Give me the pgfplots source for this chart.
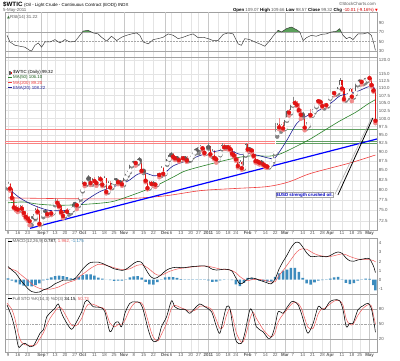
\documentclass[border=0pt]{standalone}
\usepackage{pgfplots}
\pgfplotsset{compat=1.18}
\usepackage{pgfplotstable}
\usepackage{fontspec}
\setmainfont{Liberation Sans}
\newfontfamily\symfont{DejaVu Sans}
\newcommand\tf{\fontsize{4.4}{5}\selectfont}
\definecolor{gridc}{RGB}{228,228,228}
\definecolor{monthc}{RGB}{200,200,200}
\definecolor{framec}{RGB}{160,160,160}
\definecolor{lblc}{RGB}{90,90,90}
\definecolor{ma50}{RGB}{40,130,40}
\definecolor{ma200}{RGB}{240,60,60}
\definecolor{ema20}{RGB}{30,30,150}
\definecolor{hlred}{RGB}{250,130,130}
\definecolor{hlgreen}{RGB}{100,160,100}
\definecolor{candleg}{RGB}{95,95,95}
\definecolor{wickg}{RGB}{135,135,135}
\definecolor{candler}{RGB}{225,20,20}
\definecolor{wickr}{RGB}{240,140,140}
\definecolor{histc}{RGB}{60,140,190}
\definecolor{sigred}{RGB}{240,90,90}
\definecolor{rsifill}{RGB}{90,160,90}

\pgfplotstableread{
d o h l c r
0 80.9 81.9 80.3 81.5 0
1 81.4 81.6 79.8 80.3 1
2 80.2 80.4 77.8 78.0 1
3 77.9 78.3 75.5 75.7 1
4 75.8 76.3 75.0 75.4 1
5 75.4 76.0 74.6 75.2 1
6 75.2 76.3 74.9 75.8 0
7 75.9 76.2 74.8 75.4 1
8 75.3 75.7 73.9 74.4 1
9 74.4 74.8 73.1 73.5 1
10 73.5 74.3 72.6 73.1 1
11 73.0 73.6 71.6 72.5 1
12 72.5 73.6 71.6 73.1 0
13 73.2 74.1 72.9 73.4 0
14 73.4 75.6 73.0 75.2 0
15 75.3 76.1 74.4 74.7 1
16 74.6 74.9 71.6 71.9 1
17 72.0 74.4 71.8 73.9 0
18 73.9 75.0 73.4 74.6 0
19 74.7 75.4 74.1 74.6 0
20 74.5 75.1 73.7 74.1 1
21 74.2 75.0 73.9 74.7 0
22 74.7 75.1 73.9 74.3 1
23 74.4 76.8 74.3 76.5 0
24 76.6 77.9 76.2 77.2 0
25 77.1 77.6 76.4 76.8 1
26 76.8 77.2 75.7 76.0 1
27 76.0 76.3 74.3 74.6 1
28 74.6 74.9 73.2 73.7 1
29 73.8 75.2 73.5 74.9 0
30 74.9 75.6 74.4 74.7 1
31 74.6 75.4 74.0 74.7 0
32 74.7 75.8 74.3 75.2 0
33 75.2 76.8 75.0 76.5 0
34 76.5 77.0 75.9 76.5 0
35 76.4 76.8 75.3 76.2 1
36 76.3 78.2 76.0 77.9 0
37 78.0 80.2 77.6 79.9 0
38 79.9 82.1 79.6 81.6 0
39 81.5 82.0 80.9 81.5 1
40 81.6 83.1 81.2 82.8 0
41 82.9 83.9 82.6 83.2 0
42 83.1 83.3 81.2 81.7 1
43 81.8 83.0 81.3 82.7 0
44 82.6 83.2 81.8 82.2 1
45 82.2 82.5 81.0 81.7 1
46 81.8 83.6 81.6 83.0 0
47 83.0 83.6 82.3 82.7 1
48 82.6 82.9 80.9 81.3 1
49 81.4 83.4 81.1 83.1 0
50 83.0 83.1 79.1 79.5 1
51 79.6 82.1 79.3 81.8 0
52 81.7 82.2 80.3 80.6 1
53 80.7 82.0 80.4 81.7 0
54 81.8 82.9 81.5 82.5 0
55 82.4 82.9 81.8 82.6 0
56 82.5 82.8 81.4 81.9 1
57 81.9 82.6 81.5 82.2 0
58 82.2 82.4 81.0 81.4 1
59 81.5 83.3 81.2 83.0 0
60 83.0 84.3 82.7 84.0 0
61 84.0 85.0 83.6 84.7 0
62 84.8 86.8 84.5 86.5 0
63 86.5 87.4 86.1 87.0 0
64 87.0 87.6 86.5 87.1 0
65 87.1 87.5 86.3 87.0 1
66 87.1 88.2 86.7 87.8 0
67 87.8 88.6 87.2 87.8 0
68 87.6 87.8 84.6 84.9 1
69 84.9 85.4 84.3 84.9 0
70 84.8 85.1 81.9 82.3 1
71 82.3 82.6 80.1 80.4 1
72 80.5 82.3 80.3 81.9 0
73 81.8 82.1 80.9 81.5 1
74 81.5 82.2 81.1 81.7 0
75 81.6 82.0 80.7 81.3 1
76 81.4 84.2 81.2 83.9 0
77 83.8 84.4 83.2 83.8 1
78 83.9 86.1 83.5 85.7 0
79 85.6 85.9 83.8 84.1 1
80 84.2 87.1 84.0 86.8 0
81 86.8 88.3 86.5 88.0 0
82 88.0 89.6 87.8 89.2 0
83 89.2 90.0 88.8 89.4 0
84 89.4 89.7 88.3 88.7 1
85 88.7 89.0 87.8 88.3 1
86 88.3 88.9 87.9 88.4 0
87 88.4 88.7 87.4 87.8 1
88 87.9 89.0 87.6 88.6 0
89 88.6 88.9 87.8 88.3 1
90 88.3 88.9 87.9 88.6 0
91 88.6 88.8 87.3 87.7 1
92 87.8 88.4 87.5 88.0 0
93 88.0 89.1 87.7 88.8 0
94 88.8 90.1 88.5 89.8 0
95 89.8 90.8 89.5 90.5 0
96 90.5 91.3 90.2 90.8 0
97 90.8 91.4 89.7 91.0 0
98 91.0 92.0 90.7 91.5 0
99 91.5 91.9 90.5 91.1 1
100 91.1 91.3 89.4 89.8 1
101 89.8 91.8 89.6 91.4 0
102 91.4 92.6 91.0 91.6 0
103 91.6 91.9 89.0 89.4 1
104 89.4 90.8 88.7 90.3 0
105 90.3 90.6 88.0 88.4 1
106 88.4 89.0 87.1 88.0 1
107 88.0 89.6 87.6 89.3 0
108 89.3 91.5 89.1 91.1 0
109 91.1 92.6 90.8 91.9 0
110 91.9 92.3 90.9 91.4 1
111 91.4 91.9 90.9 91.5 0
112 91.5 92.0 90.8 91.4 1
113 91.4 92.0 90.5 90.9 1
114 90.9 91.2 89.2 89.6 1
115 89.6 90.3 88.7 89.1 1
116 89.1 89.4 87.6 88.0 1
117 88.0 88.3 85.8 86.2 1
118 86.2 87.8 85.9 87.3 0
119 87.3 87.6 85.2 85.6 1
120 85.6 89.7 85.4 89.3 0
121 89.3 92.6 89.0 92.2 0
122 92.2 92.6 90.2 90.8 1
123 90.8 91.5 90.3 90.9 0
124 90.9 91.2 89.8 90.5 1
125 90.5 90.8 88.7 89.0 1
126 89.0 89.4 87.1 87.5 1
127 87.5 88.2 86.9 87.4 1
128 87.4 87.9 86.6 87.1 1
129 87.1 87.9 86.7 87.3 0
130 87.3 87.5 86.3 86.6 1
131 86.6 86.9 85.8 86.2 1
132 86.2 86.6 85.7 86.0 1
133 86.0 87.0 85.8 86.7 0
134 86.7 88.0 86.5 87.7 0
135 87.7 89.0 87.3 88.4 0
136 89.8 98.5 89.5 95.4 0
137 95.4 98.5 94.5 98.1 0
138 98.1 100.2 96.7 97.3 1
139 97.3 98.3 96.0 97.9 0
140 97.9 99.0 96.5 97.0 1
141 97.0 100.1 96.8 99.6 0
142 99.6 102.6 99.3 102.2 0
143 102.2 102.9 100.9 101.9 1
144 101.9 104.8 101.6 104.4 0
145 104.4 106.9 104.1 105.4 0
146 105.4 106.0 104.4 105.0 1
147 105.0 105.8 104.0 104.4 1
148 104.4 104.9 102.3 102.7 1
149 102.7 103.1 99.9 101.2 1
150 101.2 102.0 100.3 101.2 0
151 101.2 101.5 96.4 97.2 1
152 97.2 98.8 96.9 98.0 0
153 98.0 101.8 97.6 101.4 0
154 101.4 103.0 100.8 101.1 1
155 101.1 103.0 100.9 102.3 0
156 102.3 104.3 101.9 104.0 0
157 104.0 106.0 103.6 105.8 0
158 105.8 106.2 104.9 105.6 1
159 105.6 106.0 104.8 105.4 1
160 105.4 105.7 103.6 104.0 1
161 104.0 105.0 103.2 104.8 0
162 104.8 105.0 103.9 104.3 1
163 104.3 107.0 103.9 106.7 0
164 106.7 108.5 106.4 107.9 0
165 107.9 108.9 107.5 108.5 0
166 108.5 109.0 107.6 108.3 1
167 108.3 109.4 107.8 108.8 0
168 108.8 110.6 108.1 110.3 0
169 110.3 113.5 110.0 112.8 0
170 112.8 113.0 109.5 109.9 1
171 109.9 110.2 105.9 106.3 1
172 106.3 107.5 105.8 107.1 0
173 107.1 108.5 106.5 108.1 0
174 108.1 110.0 107.8 109.7 0
175 109.7 109.9 105.6 107.1 1
176 107.1 108.6 106.8 108.2 0
177 108.2 111.8 108.0 111.5 0
178 111.5 112.5 111.0 112.3 0
179 112.3 112.6 111.3 112.3 0
180 112.3 112.8 111.3 112.2 1
181 112.2 113.2 111.4 112.8 0
182 112.8 113.5 111.9 112.9 0
183 112.9 114.0 112.5 113.9 0
184 113.9 114.8 112.8 113.5 1
185 113.5 113.7 110.6 111.1 1
186 111.1 111.6 108.8 109.2 1
187 109.07 109.66 98.57 99.32 1
}\candles

\pgfplotstableread{
d p
0 80.4
6 78.0
13 76.2
21 75.0
30 75.0
35 75.6
40 77.5
47 79.6
54 80.8
61 82.2
66 84.0
70 84.3
74 83.6
79 84.0
84 86.2
91 87.6
99 89.3
108 90.5
113 90.5
118 89.4
123 89.6
128 89.0
135 88.2
138 90.0
142 93.5
147 98.5
152 100.8
156 101.8
160 103.3
165 105.3
169 107.4
174 108.2
179 109.2
183 110.4
186 110.5
187 108.6
}\emaA

\pgfplotstableread{
d p
0 76.8
8 77.0
15 76.5
25 76.2
38 76.4
52 77.0
61 78.3
74 80.7
85 83.5
91 85.0
108 87.4
118 88.6
125 89.0
133 88.9
139 89.6
152 93.2
160 96.0
169 99.3
177 102.0
183 104.6
187 106.1
}\maB

\pgfplotstableread{
d p
0 78.0
30 77.8
60 77.8
80 78.5
98 79.8
115 80.3
132 80.8
143 82.0
154 84.2
174 87.0
187 89.2
}\maC

\pgfplotstableread{
d p
-1.53 96.8
136 96.8
}\hlA
\pgfplotstableread{
d p
-1.53 93.1
136 93.1
}\hlB
\pgfplotstableread{
d p
-1.53 92.5
136 92.5
}\hlC
\pgfplotstableread{
d p
136 96.8
187.8 96.8
}\hgA
\pgfplotstableread{
d p
136 93.1
187.8 93.1
}\hgB
\pgfplotstableread{
d p
136 92.5
187.8 92.5
}\hgC
\pgfplotstableread{
d p
11.2 70.9
187.8 93.8
}\trendblue
\pgfplotstableread{
d p
167.9 78.7
185.7 100.2
}\trendblack
\pgfplotstableread{
d p
166.4 78.9
185.0 100.2
}\trendgray

\pgfplotstableread{
d v
-0.5 63
1.0 49
3.6 42
6.1 40
8.6 38
11.2 31
12.0 30
13.7 42
15.4 47
17.1 38
18.8 49
21.4 49
23.9 54
26.4 47
29.0 54
31.5 49
34.1 50
36.6 63
38.3 72
40.8 73.5
43.4 68
45.9 66
47.6 59
50.2 51
52.7 61
55.3 52
57.8 59
60.3 63
62.9 66
65.4 68
67.1 63
68.8 49
71.4 45
73.9 54
76.4 56
79.0 59
81.5 66
84.1 63
86.6 56
89.2 59
91.7 63
94.2 66
96.8 58
99.3 59
101.9 56
104.4 52
106.9 52
109.5 65
112.0 68
114.6 66
117.1 45
118.8 42
120.5 56
123.1 54
125.6 49
128.1 45
130.7 40
133.2 52
135.8 66
137.5 73.5
139.2 70
141.7 77
144.2 80.5
146.8 75
148.5 70
150.2 52
151.9 58
154.4 63
156.9 61
159.5 65
162.0 66
164.6 70
167.1 71.5
168.8 77
170.5 63
172.2 56
173.9 59
175.6 54
178.1 66
180.7 66
183.2 68.6
184.9 63
186.0 49
187.0 31.22
}\rsi

\pgfplotstableread{
d m s h
0 1.45 1.30 0.15
2 1.05 1.15 -0.10
4 0.70 1.00 -0.30
6 0.08 0.65 -0.50
8 -0.45 0.30 -0.65
10 -0.95 -0.05 -0.70
12 -1.30 -0.45 -0.72
14 -1.40 -0.75 -0.60
16 -1.35 -0.95 -0.40
18 -1.12 -1.05 -0.07
20 -0.97 -1.05 0.08
22 -0.75 -1.02 0.25
24 -0.43 -0.92 0.40
26 -0.25 -0.78 0.45
28 -0.05 -0.55 0.40
30 -0.04 -0.35 0.28
32 -0.04 -0.20 0.14
34 0.11 -0.08 0.17
36 0.60 0.30 0.30
38 1.15 0.60 0.50
40 1.60 0.92 0.60
42 1.90 1.25 0.60
44 1.94 1.50 0.44
46 1.93 1.70 0.23
48 1.80 1.68 0.12
50 1.60 1.58 0.02
52 1.40 1.45 -0.05
54 1.20 1.32 -0.12
56 1.10 1.20 -0.10
58 1.02 1.12 -0.10
60 1.15 1.12 0.03
62 1.45 1.20 0.25
64 1.80 1.42 0.38
66 2.00 1.60 0.40
68 1.90 1.66 0.24
70 1.20 1.45 -0.25
72 0.50 1.15 -0.50
74 0.15 0.78 -0.55
76 0.25 0.52 -0.27
78 0.55 0.50 0.05
80 0.95 0.68 0.27
82 1.20 0.90 0.30
84 1.33 1.05 0.28
86 1.37 1.17 0.20
88 1.32 1.25 0.07
90 1.33 1.30 0.03
92 1.40 1.35 0.05
94 1.45 1.41 0.04
96 1.48 1.45 0.03
98 1.53 1.48 0.05
100 1.52 1.49 0.03
102 1.40 1.48 -0.08
104 1.15 1.38 -0.23
106 1.06 1.28 -0.22
108 1.10 1.17 -0.07
110 1.17 1.12 0.05
112 1.12 1.12 0.00
114 0.95 1.00 -0.05
116 0.20 0.76 -0.50
118 -0.45 0.35 -0.70
120 -0.30 0.05 -0.35
122 0.10 -0.10 0.20
124 0.20 0.00 0.20
126 0.12 0.04 0.08
128 -0.05 0.04 -0.09
130 -0.20 -0.05 -0.15
132 -0.35 -0.14 -0.21
134 -0.45 -0.25 -0.20
136 0.10 -0.20 0.30
138 1.20 0.50 0.70
140 2.00 1.00 1.00
142 2.70 1.60 1.10
144 3.50 2.20 1.30
146 4.05 2.80 1.30
148 4.10 3.25 0.85
150 3.60 3.40 0.20
152 2.95 3.35 -0.40
154 2.55 3.10 -0.55
156 2.55 2.85 -0.30
158 2.60 2.70 -0.10
160 2.55 2.60 -0.05
162 2.52 2.55 -0.03
164 2.66 2.55 0.11
166 2.90 2.64 0.26
168 3.05 2.75 0.30
170 2.90 2.85 0.05
172 2.40 2.75 -0.35
174 2.07 2.55 -0.48
176 2.03 2.40 -0.37
178 2.17 2.27 -0.10
180 2.25 2.22 0.03
182 2.33 2.20 0.13
184 2.30 2.20 0.10
186 1.50 2.10 -0.60
187 0.787 1.962 -1.175
}\macd

\pgfplotstableread{
d k dd
-0.5 88.7 92
1.9 65 80
3.6 39 60
5.3 5 30
6.9 8.6 14
8.6 12 9
11.2 5 8
12.9 6.7 7
14.6 18.7 11
16.3 32 22
18.0 39 33
19.7 65 48
21.4 73 62
23.9 82 76
25.6 90.7 84
27.3 72 82
29.8 53 65
32.4 40 48
34.9 55 48
37.5 75 62
39.2 95 80
40.8 97 90
43.4 85 90
46.8 84 84
49.3 75 80
51.9 35 52
54.4 52 45
56.1 55 50
57.8 45 50
59.5 72 58
62.0 92 80
64.6 95 93
67.1 93 94
68.8 79 88
71.4 39 55
73.1 20 32
74.7 15 20
76.4 20 17
78.1 45 30
80.7 65 52
83.2 97 82
84.9 85 88
87.5 80 84
90.0 80 80
92.5 72 76
95.1 82 78
97.6 90.7 86
100.2 85 86
103.6 75 80
106.1 45 58
107.8 32 42
109.5 59 45
111.2 85 68
112.9 82 80
114.6 42 60
116.3 15 32
118.8 12 14
120.5 32 22
123.1 79 60
124.7 72 74
126.4 45 62
129.8 35 40
132.4 22 28
134.1 25 25
135.8 45 32
137.5 75 55
140.0 72 70
141.7 82 78
144.2 95 90
145.9 95 94
147.6 89 92
149.3 72 82
151.0 49 62
152.7 32 44
155.3 52 42
157.8 85 70
159.5 82 80
161.2 80 82
163.7 95 90
166.3 99 97
168.8 97 97
170.5 79 88
172.2 45 60
173.9 52 50
175.6 52 50
178.1 79 68
180.7 87 82
183.2 92 89
184.9 82 87
186.2 55 65
187 34.15 50.73
}\sto

\pgfplotsset{
  panel/.style={
    scale only axis, width=372pt, xmin=-1.53, xmax=187.8,
    axis line style={framec, line width=0.4pt},
    major tick length=0pt, minor tick length=0pt,
    xtick={0,5,10,17,20,24,29,34,38,44,49,54,59,64,69,74,80,83,88,93,97,102,107,112,116,122,126,131,136,141,145,150,155,160,164,170,175,179,184},
    xmajorgrids, grid style={gridc, line width=0.4pt},
    extra x ticks={17,38,59,80,102,122,141,164,184},
    extra x tick labels={},
    extra x tick style={grid style={monthc, line width=0.4pt}},
    yticklabel pos=right,
    ticklabel style={font=\tf, text=lblc},
    yticklabel style={inner sep=1.8pt},
    xticklabel style={inner sep=1pt},
    /pgf/number format/assume math mode=true,
  },
  datelabels/.style={
    xticklabels={9,16,23,\textbf{Sep},7,13,20,27,\textbf{Oct},11,18,25,\textbf{Nov},8,15,22,\textbf{Dec},6,13,20,27,\textbf{2011},10,18,24,\textbf{Feb},7,14,22,\textbf{Mar},7,14,21,28,\textbf{Apr},11,18,25,\textbf{May}},
  },
  candlebar/.style 2 args={only marks, mark=none, error bars/.cd, y dir=plus, y explicit, error mark=none,
    error bar style={draw=#1, line width=#2}},
}

\begin{document}
\begin{tikzpicture}
\useasboundingbox (0pt,0pt) rectangle (400pt,360pt);
\fill[white] (0pt,0pt) rectangle (400pt,360pt);

% ---------- RSI panel ----------
\begin{axis}[panel, at={(5pt,348pt)}, anchor=north west, height=45.5pt,
  ymin=16.3, ymax=112.1, xticklabels={},
  ytick={30,50,70,90}, yticklabels={30,50,70,90}]
\addplot[fill=rsifill, draw=none] coordinates {(37.9,70) (38.3,72) (40.8,73.5) (42.5,70)};
\addplot[fill=rsifill, draw=none] coordinates {(136.9,70) (137.5,73.5) (139.2,70) (141.7,77) (144.2,80.5) (146.8,75) (148.5,70)};
\addplot[fill=rsifill, draw=none] coordinates {(164.6,70) (167.1,71.5) (168.8,77) (169.65,70)};
\addplot[gray!70, line width=0.45pt] coordinates {(-1.53,70) (187.8,70)};
\addplot[gray!70, line width=0.45pt] coordinates {(-1.53,30) (187.8,30)};
\addplot[gray!70, line width=0.4pt, dash pattern=on 2pt off 1pt] coordinates {(-1.53,50) (187.8,50)};
\addplot[black!80, line width=0.45pt] table[x=d, y=v] {\rsi};
\end{axis}

% ---------- Price panel (log price scale: y = ln(price)) ----------
\begin{axis}[panel, datelabels, at={(5pt,302.5pt)}, anchor=north west, height=173pt,
  ymin=4.25419, ymax=4.79662, ymajorgrids,
  ytick={4.28359,4.31749,4.35028,4.38203,4.41280,4.44265,4.47164,4.49981,4.52721,4.55388,4.57985,4.60517,4.62986,4.65396,4.67749,4.70048,4.72295,4.74493,4.78749},
  yticklabels={72.5,75.0,77.5,80.0,82.5,85.0,87.5,90.0,92.5,95.0,97.5,100.0,102.5,105.0,107.5,110.0,112.5,115.0,120.0}]
\addplot[hlred, line width=0.5pt] table[x=d, y expr={ln(\thisrow{p})}] {\hlA};
\addplot[hlred, line width=0.5pt] table[x=d, y expr={ln(\thisrow{p})}] {\hlB};
\addplot[hlred, line width=0.5pt] table[x=d, y expr={ln(\thisrow{p})}] {\hlC};
\addplot[hlgreen, line width=0.5pt] table[x=d, y expr={ln(\thisrow{p})}] {\hgA};
\addplot[hlgreen, line width=0.5pt] table[x=d, y expr={ln(\thisrow{p})}] {\hgB};
\addplot[hlgreen, line width=0.5pt] table[x=d, y expr={ln(\thisrow{p})}] {\hgC};
% wicks
\addplot[wickg, candlebar={wickg}{0.45pt}]
  table[x=d, y expr={ln(\thisrow{l})}, y error plus expr={ln(\thisrow{h})-ln(\thisrow{l})}, restrict expr to domain={\thisrow{r}}{-0.5:0.5}] {\candles};
\addplot[wickr, candlebar={wickr}{0.45pt}]
  table[x=d, y expr={ln(\thisrow{l})}, y error plus expr={ln(\thisrow{h})-ln(\thisrow{l})}, restrict expr to domain={\thisrow{r}}{0.5:1.5}] {\candles};
% bodies
\addplot[candleg, candlebar={candleg}{1.35pt}]
  table[x=d, y expr={ln(min(\thisrow{o},\thisrow{c}))}, y error plus expr={abs(ln(\thisrow{c})-ln(\thisrow{o}))+0.0008}, restrict expr to domain={\thisrow{r}}{-0.5:0.5}] {\candles};
% hollow interior of rising gray candles
\addplot[white, candlebar={white}{0.5pt}]
  table[x=d, y expr={ln(\thisrow{o})+0.0012}, y error plus expr={ln(\thisrow{c})-ln(\thisrow{o})-0.0024}, restrict expr to domain={(\thisrow{c}-\thisrow{o})*(1-\thisrow{r})}{0.35:100}] {\candles};
\addplot[candler, candlebar={candler}{1.15pt}]
  table[x=d, y expr={ln(min(\thisrow{o},\thisrow{c}))}, y error plus expr={abs(ln(\thisrow{c})-ln(\thisrow{o}))+0.0008}, restrict expr to domain={\thisrow{r}}{0.5:1.5}] {\candles};
% moving averages
\addplot[ma200, line width=0.6pt, smooth] table[x=d, y expr={ln(\thisrow{p})}] {\maC};
\addplot[ma50, line width=0.6pt, smooth] table[x=d, y expr={ln(\thisrow{p})}] {\maB};
\addplot[ema20, line width=0.6pt, smooth] table[x=d, y expr={ln(\thisrow{p})}] {\emaA};
% trend lines
\addplot[blue, line width=1.2pt] table[x=d, y expr={ln(\thisrow{p})}] {\trendblue};
\addplot[gray!60, line width=0.6pt] table[x=d, y expr={ln(\thisrow{p})}] {\trendgray};
\addplot[black, line width=0.8pt] table[x=d, y expr={ln(\thisrow{p})}] {\trendblack};
\node[draw=gray!70, fill=white, inner sep=0.6pt, font=\tf\bfseries, text=blue!75!black] at (axis cs:151,4.36564) {\$USD strength crushed oil.};
\end{axis}

% ---------- MACD panel ----------
\begin{axis}[panel, at={(5pt,121.5pt)}, anchor=north west, height=55.5pt,
  ymin=-1.57, ymax=4.53, xticklabels={},
  ytick={-1,0,1,2,3,4}, yticklabels={-1,0,1,2,3,4}]
\addplot[ybar, bar width=1.3, fill=histc, draw=none] table[x=d, y=h] {\macd};
\addplot[sigred, line width=0.5pt, smooth] table[x=d, y=s] {\macd};
\addplot[black, line width=0.55pt, smooth] table[x=d, y=m] {\macd};
\end{axis}

% ---------- Stochastics panel ----------
\begin{axis}[panel, datelabels, at={(5pt,66pt)}, anchor=north west, height=58pt,
  ymin=-5.4, ymax=110.6,
  ytick={20,50,80}, yticklabels={20,50,80}]
\addplot[gray!70, line width=0.45pt] coordinates {(-1.53,80) (187.8,80)};
\addplot[gray!70, line width=0.45pt] coordinates {(-1.53,20) (187.8,20)};
\addplot[gray!70, line width=0.4pt, dash pattern=on 2pt off 1pt on 0.5pt off 1pt] coordinates {(-1.53,50) (187.8,50)};
\addplot[sigred, line width=0.5pt, smooth] table[x=d, y=dd] {\sto};
\addplot[black, line width=0.55pt, smooth] table[x=d, y=k] {\sto};
\end{axis}

% ---------- texts ----------
\node[anchor=base west, inner sep=0] at (3pt,353.5pt) {\fontsize{6.2}{7}\selectfont\bfseries \$WTIC\ \tf\mdseries (Oil - Light Crude - Continuous Contract (EOD)) INDX};
\node[anchor=base west, inner sep=0, text=lblc] at (3pt,348.3pt) {\tf 5-May-2011};
\node[anchor=base east, inner sep=0, text=lblc] at (376pt,354.5pt) {\tf \textcopyright StockCharts.com};
\node[anchor=base east, inner sep=0] at (378pt,348.3pt) {\tf \textbf{Open} \textcolor{lblc}{109.07} \textbf{High} \textcolor{lblc}{109.66} \textbf{Low} \textcolor{lblc}{98.57} \textbf{Close} \textcolor{lblc}{99.32} \textbf{Chg} \textcolor{red!80!black}{-10.01 (-9.16\%)} \textcolor{red}{\symfont\fontsize{3.5}{4}\selectfont ▼}};
% RSI legend
\node[anchor=base west, inner sep=0, text=lblc] at (7pt,342pt) {\tf\textcolor{rsifill!70!black}{\symfont\fontsize{3.8}{4}\selectfont ▲}RSI(14) 31.22};
% price legend
\draw[candleg, line width=0.3pt, fill=white] (9pt,285.9pt) rectangle (10.4pt,288.6pt);
\draw[wickg, line width=0.3pt] (9.7pt,285.2pt) -- (9.7pt,285.9pt) (9.7pt,288.6pt) -- (9.7pt,289.2pt);
\fill[candler] (11pt,286.4pt) rectangle (12.2pt,288.2pt);
\node[anchor=base west, inner sep=0] at (13pt,286.2pt) {\tf \$WTIC (Daily) 99.32};
\draw[ma50, line width=0.7pt] (8pt,282.7pt) -- (12pt,282.7pt);
\node[anchor=base west, inner sep=0, text=ma50!70!black] at (13pt,281.2pt) {\tf MA(50) 106.10};
\draw[ma200, line width=0.7pt] (8pt,277.3pt) -- (12pt,277.3pt);
\node[anchor=base west, inner sep=0, text=ma200] at (13pt,275.8pt) {\tf MA(200) 89.20};
\draw[ema20, line width=0.7pt] (8pt,272.3pt) -- (12pt,272.3pt);
\node[anchor=base west, inner sep=0, text=ema20] at (13pt,270.8pt) {\tf EMA(20) 108.22};
% MACD legend
\draw[black, line width=0.6pt] (8pt,118.6pt) -- (11.5pt,118.6pt);
\node[anchor=base west, inner sep=0, text=lblc] at (12.5pt,117.2pt) {\tf MACD(12,26,9) \textcolor{black}{0.787,} \textcolor{sigred}{1.962,} \textcolor{histc}{-1.175}};
% STO legend
\draw[black, line width=0.6pt] (8pt,61.4pt) -- (11.5pt,61.4pt);
\node[anchor=base west, inner sep=0, text=lblc] at (12.5pt,60pt) {\tf Full STO \%K(14,3) \%D(3) \textcolor{black}{34.15,} \textcolor{sigred}{50.73}};
\end{tikzpicture}
\end{document}
